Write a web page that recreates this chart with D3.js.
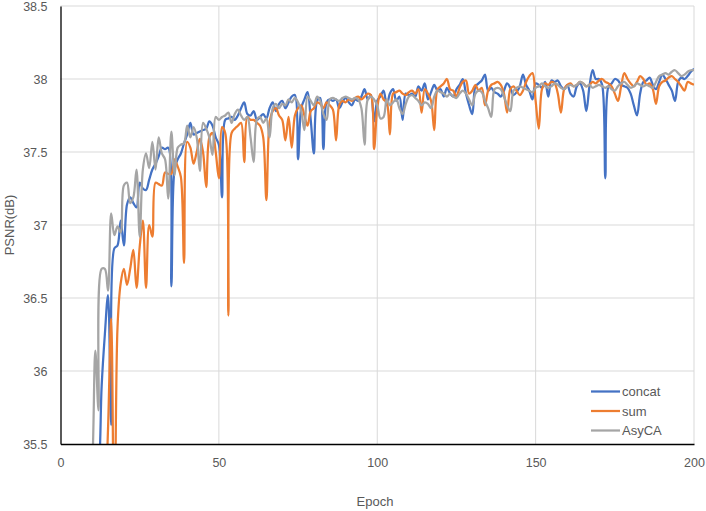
<!DOCTYPE html>
<html><head><meta charset="utf-8">
<script src="https://cdn.jsdelivr.net/npm/d3@7"></script>
<style>body{margin:0;background:#fff}svg{display:block}</style>
</head><body>
<svg id="c" width="706" height="511"></svg>
<script>
const seriesNames = ["concat", "sum", "AsyCA"];
const xTicks = [0, 50, 100, 150, 200];
const yTicks = [35.5, 36, 36.5, 37, 37.5, 38, 38.5];

const concat = [33.2,33.6,34.0,34.3,34.5,34.7,34.9,35.0,35.1,35.15,35.2,
35.3,35.9,36.25,36.52,35.63,36.84,36.86,37.03,36.86,37.14,37.19,37.15,37.12,37.29,37.25,37.24,37.31,37.38,37.42,
37.47,37.53,37.52,37.53,36.58,37.38,37.45,37.49,37.56,37.62,37.70,37.62,37.63,37.64,37.65,37.66,37.71,37.68,37.6,37.55,
37.19,37.72,37.73,37.74,37.72,37.75,37.8,37.84,37.76,37.75,37.78,37.72,37.74,37.76,37.73,37.8,37.84,37.78,37.83,37.85,
37.8,37.84,37.88,37.89,37.45,37.8,37.86,37.91,37.72,37.49,37.85,37.87,37.52,37.84,37.86,37.85,37.86,37.8,37.84,37.87,
37.84,37.82,37.86,37.85,37.88,37.93,37.86,37.89,37.71,37.85,37.88,37.92,37.82,37.9,37.93,37.85,37.88,37.72,37.9,37.89,
37.9,37.88,37.95,37.92,37.97,37.86,37.91,37.96,37.92,37.93,37.88,37.94,37.9,37.88,37.93,37.96,38.0,37.9,37.82,37.76,
37.95,37.97,37.99,38.03,37.92,37.94,37.91,37.9,37.88,37.92,37.97,37.94,37.89,37.91,37.95,38.03,37.96,37.92,37.86,37.97,
37.96,37.94,37.98,37.88,37.99,37.98,37.99,37.95,37.93,37.96,37.9,37.88,37.95,37.97,37.92,37.78,37.95,38.06,38.0,38.0,
37.96,37.32,37.95,37.97,38.0,37.99,37.96,37.95,37.94,37.9,37.82,37.75,37.9,37.98,37.99,38.01,37.96,37.93,37.98,38.03,
38.0,37.96,37.92,37.85,37.98,38.01,38.0,38.02,38.05,38.07];

const sum = [32.8,33.1,33.4,33.7,33.9,34.1,34.3,34.5,34.6,34.7,34.8,34.9,35.0,35.1,
35.6,36.36,34.8,36.3,36.6,36.7,36.59,36.7,36.83,36.57,36.85,37.03,36.57,37.0,36.92,37.29,
37.28,37.27,37.36,37.35,37.35,37.45,37.4,37.33,36.74,37.57,37.53,37.42,37.5,37.59,37.5,37.26,37.6,37.63,37.5,37.32,
37.67,37.63,36.38,37.63,37.66,37.68,37.7,37.43,37.74,37.72,37.72,37.7,37.68,37.6,37.17,37.7,37.78,37.8,37.75,37.72,
37.58,37.74,37.53,37.75,37.8,37.82,37.75,37.68,37.78,37.8,37.84,37.83,37.8,37.84,37.82,37.79,37.58,37.82,37.85,37.84,
37.86,37.85,37.87,37.88,37.86,37.88,37.9,37.89,37.52,37.8,37.9,37.86,37.84,37.62,37.9,37.91,37.92,37.9,37.89,37.91,
37.92,37.9,37.93,37.77,37.93,37.9,37.85,37.65,37.93,37.95,37.97,38.0,37.93,37.92,37.88,37.94,37.98,37.99,37.9,37.92,
37.96,37.92,37.94,37.82,37.92,37.96,37.97,37.98,37.96,37.9,37.77,37.93,37.95,37.92,37.89,37.92,37.98,38.02,38.04,37.85,
37.66,37.93,37.97,37.96,37.98,37.97,37.9,37.77,37.93,37.96,37.97,37.95,37.96,37.98,37.97,37.95,37.96,37.98,37.97,37.99,
38.0,37.98,37.97,37.95,37.9,37.85,37.95,38.04,38.0,37.97,37.95,37.98,38.02,38.0,37.96,37.97,37.93,37.83,37.95,37.98,
37.99,38.01,38.02,38.0,37.98,37.95,37.92,37.98,37.97,37.96];

const asyca = [33.0,33.4,33.8,34.1,34.4,34.6,34.8,35.0,35.15,35.35,
36.14,35.73,36.70,36.70,36.55,37.08,36.93,36.99,36.95,37.27,37.29,37.15,37.19,37.38,36.92,37.38,37.49,37.39,37.57,37.38,
37.6,37.49,37.45,37.18,37.64,37.34,37.53,37.55,37.56,37.68,37.6,37.67,37.6,37.37,37.7,37.66,37.6,37.48,37.74,37.72,
37.74,37.75,37.77,37.7,37.76,37.79,37.75,37.72,37.74,37.6,37.43,37.72,37.74,37.7,37.73,37.6,37.8,37.83,37.8,37.83,
37.82,37.86,37.84,37.87,37.84,37.78,37.65,37.88,37.85,37.82,37.88,37.85,37.76,37.72,37.86,37.87,37.86,37.85,37.87,37.88,
37.87,37.86,37.87,37.86,37.8,37.55,37.86,37.88,37.86,37.82,37.73,37.74,37.86,37.82,37.84,37.86,37.8,37.76,37.83,37.88,
37.89,37.87,37.85,37.82,37.84,37.83,37.8,37.88,37.92,37.91,37.9,37.88,37.9,37.88,37.87,37.9,37.92,37.9,37.86,37.82,
37.9,37.92,37.91,37.85,37.8,37.74,37.93,37.94,37.93,37.88,37.82,37.78,37.92,37.94,37.95,37.94,37.93,37.92,37.91,37.94,
37.95,37.97,37.95,37.94,37.95,37.97,37.96,37.94,37.93,37.95,37.96,37.95,37.96,37.98,37.97,37.95,37.96,37.94,37.95,37.96,
37.95,37.94,37.95,37.93,37.92,37.95,37.97,37.98,37.96,37.94,37.95,37.97,37.96,37.95,37.96,37.95,37.94,37.98,38.02,38.03,
38.04,38.03,38.05,38.06,38.04,38.02,38.03,38.05,38.06,38.06];

const colors = ["#4472C4", "#ED7D31", "#A5A5A5"];
const allSeries = [concat, sum, asyca];

const svg = d3.select("#c");
const L = 60.5, R = 694, T = 6, B = 444;
const x = d3.scaleLinear().domain([0, 200]).range([L, R]);
const y = d3.scaleLinear().domain([35.5, 38.5]).range([B, T]);
const font = "'Liberation Sans', Arial, sans-serif";
const txt = "#595959";

// gridlines
svg.append("g").selectAll("line.h").data(yTicks.slice(1)).join("line")
  .attr("x1", L).attr("x2", R).attr("y1", d => y(d)).attr("y2", d => y(d))
  .attr("stroke", "#d9d9d9").attr("stroke-width", 1);
svg.append("g").selectAll("line.v").data(xTicks.slice(1)).join("line")
  .attr("x1", d => x(d)).attr("x2", d => x(d)).attr("y1", T).attr("y2", B)
  .attr("stroke", "#d9d9d9").attr("stroke-width", 1);

// clip
svg.append("clipPath").attr("id", "clip").append("rect")
  .attr("x", L).attr("y", T).attr("width", R - L).attr("height", B - T);

const line = d3.line().x((d, i) => x(i + 1)).y(d => y(d)).curve(d3.curveCatmullRom.alpha(0.5));
const g = svg.append("g").attr("clip-path", "url(#clip)");
allSeries.forEach((s, k) => {
  g.append("path").datum(s).attr("d", line).attr("fill", "none")
    .attr("stroke", colors[k]).attr("stroke-width", 2.25).attr("stroke-linejoin", "round");
});

// axes
const yAxis = d3.axisLeft(y).tickValues(yTicks).tickSize(0).tickPadding(13).tickFormat(d => String(d));
const ya = svg.append("g").attr("transform", `translate(${L},0)`).call(yAxis);
ya.select(".domain").attr("stroke", "#000").attr("stroke-width", 1.3);
ya.selectAll("text").attr("font-family", font).attr("font-size", 12.5).attr("fill", txt);

const xAxis = d3.axisBottom(x).tickValues(xTicks).tickSize(0).tickPadding(14).tickFormat(d => String(d));
const xa = svg.append("g").attr("transform", `translate(0,${B})`).call(xAxis);
xa.select(".domain").attr("stroke", "#000").attr("stroke-width", 1.3);
xa.selectAll("text").attr("font-family", font).attr("font-size", 12.5).attr("fill", txt);

// axis titles
svg.append("text").attr("x", 375).attr("y", 506).attr("text-anchor", "middle")
  .attr("font-family", font).attr("font-size", 13).attr("fill", txt).text("Epoch");
svg.append("text").attr("transform", "translate(14,225) rotate(-90)").attr("text-anchor", "middle")
  .attr("font-family", font).attr("font-size", 13).attr("fill", txt).text("PSNR(dB)");

// legend
const lg = svg.append("g");
seriesNames.forEach((n, k) => {
  const yy = 391.5 + k * 19.5;
  lg.append("line").attr("x1", 591).attr("x2", 620).attr("y1", yy).attr("y2", yy)
    .attr("stroke", colors[k]).attr("stroke-width", 2.25);
  lg.append("text").attr("x", 622).attr("y", yy + 4.5).attr("font-family", font)
    .attr("font-size", 13).attr("fill", txt).text(n);
});
</script>
</body></html>
